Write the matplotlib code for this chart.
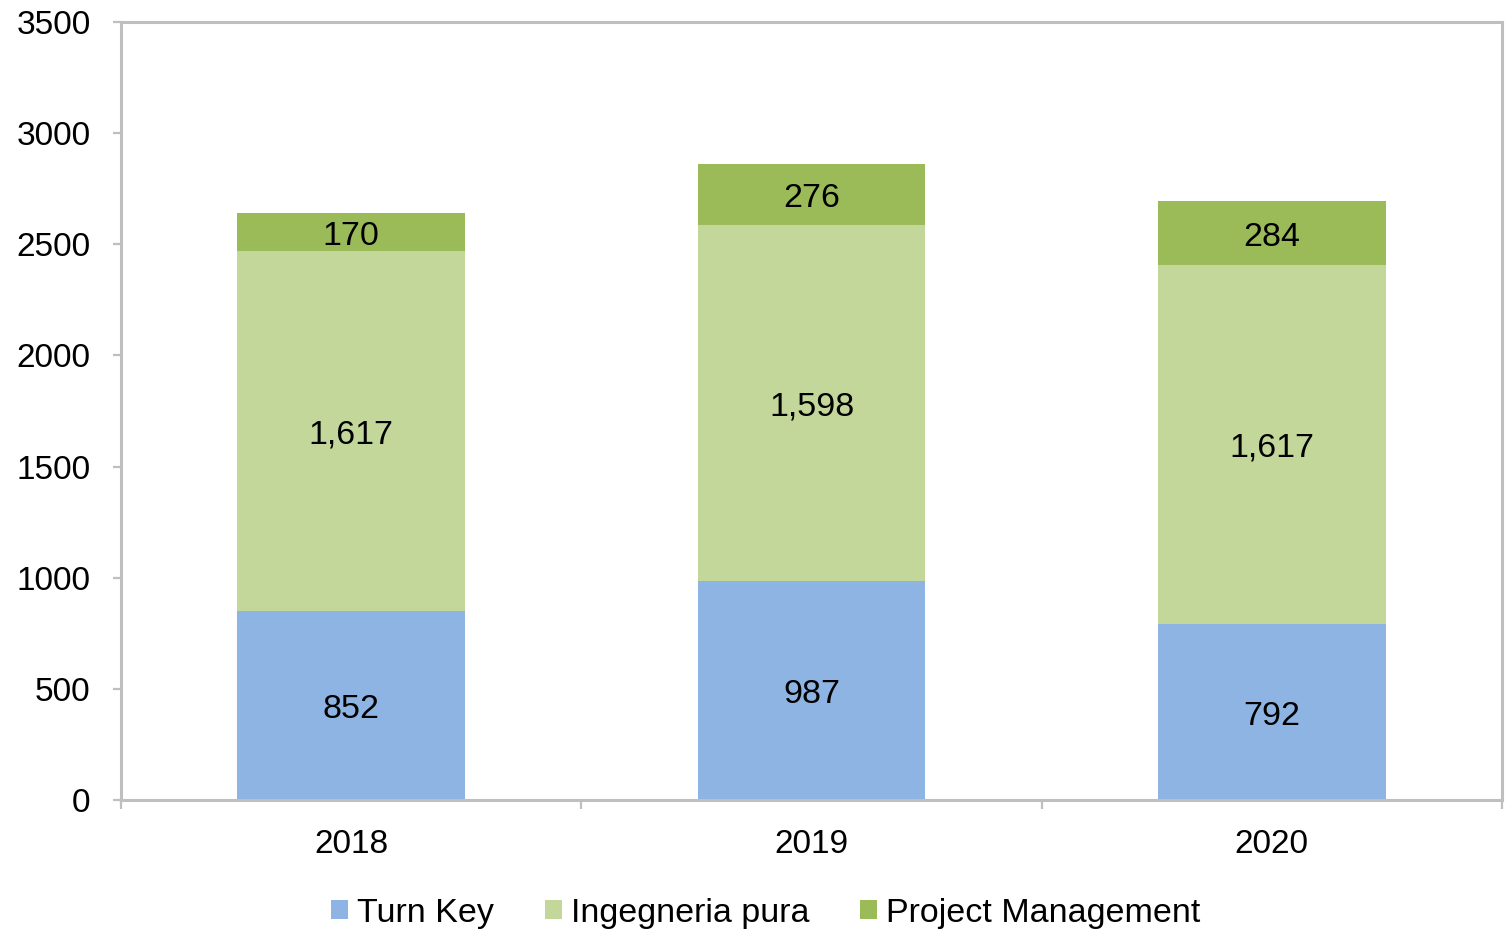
import matplotlib.pyplot as plt
import numpy as np

plt.rcParams['font.family'] = ['Liberation Sans', 'DejaVu Sans']

years = ['2018', '2019', '2020']
turn_key = [852, 987, 792]
ingegneria = [1617, 1598, 1617]
project_mgmt = [170, 276, 284]
series_names = ['Turn Key', 'Ingegneria pura', 'Project Management']
colors = ['#8EB4E3', '#C4D79B', '#9BBB59']

fig = plt.figure(figsize=(15.08, 9.30), dpi=100)
ax = fig.add_axes([121/1508, 1 - 800/930, (1502 - 121)/1508, (800 - 22)/930])

x = np.arange(len(years))
bottom = np.zeros(len(years))
for vals, name, c in zip([turn_key, ingegneria, project_mgmt], series_names, colors):
    vals = np.array(vals, dtype=float)
    ax.bar(x, vals, 0.495, bottom=bottom, color=c, label=name, zorder=2)
    for xi, b, v in zip(x, bottom, vals):
        ax.annotate(f'{int(v):,}', (xi, b + v / 2), xytext=(0, -3), textcoords='offset points',
                    ha='center', va='center', fontsize=24.5, color='black', zorder=3)
    bottom += vals

ax.set_xlim(-0.5, 2.5)
ax.set_ylim(0, 3500)
ax.set_yticks(np.arange(0, 3501, 500))
ax.set_xticks(x)
ax.set_xticklabels(years)
ax.set_xticks([-0.5, 0.5, 1.5, 2.5], minor=True)
ax.tick_params(axis='x', which='major', length=0, labelsize=24, pad=21)
ax.tick_params(axis='x', which='minor', length=6.5, width=1.6, color='#BFBFBF', direction='out')
ax.tick_params(axis='y', length=6, width=1.6, color='#BFBFBF', labelsize=24, pad=16)

for s in ax.spines.values():
    s.set_color('#BFBFBF')
    s.set_linewidth(2.2)

fig.legend(loc='center', bbox_to_anchor=(766/1508, 1 - 913/930), ncol=3, frameon=False,
           fontsize=24.5, handlelength=0.5, handleheight=0.5, handletextpad=0.26,
           columnspacing=1.5, borderaxespad=0)

fig.savefig('out.png', dpi=100)
